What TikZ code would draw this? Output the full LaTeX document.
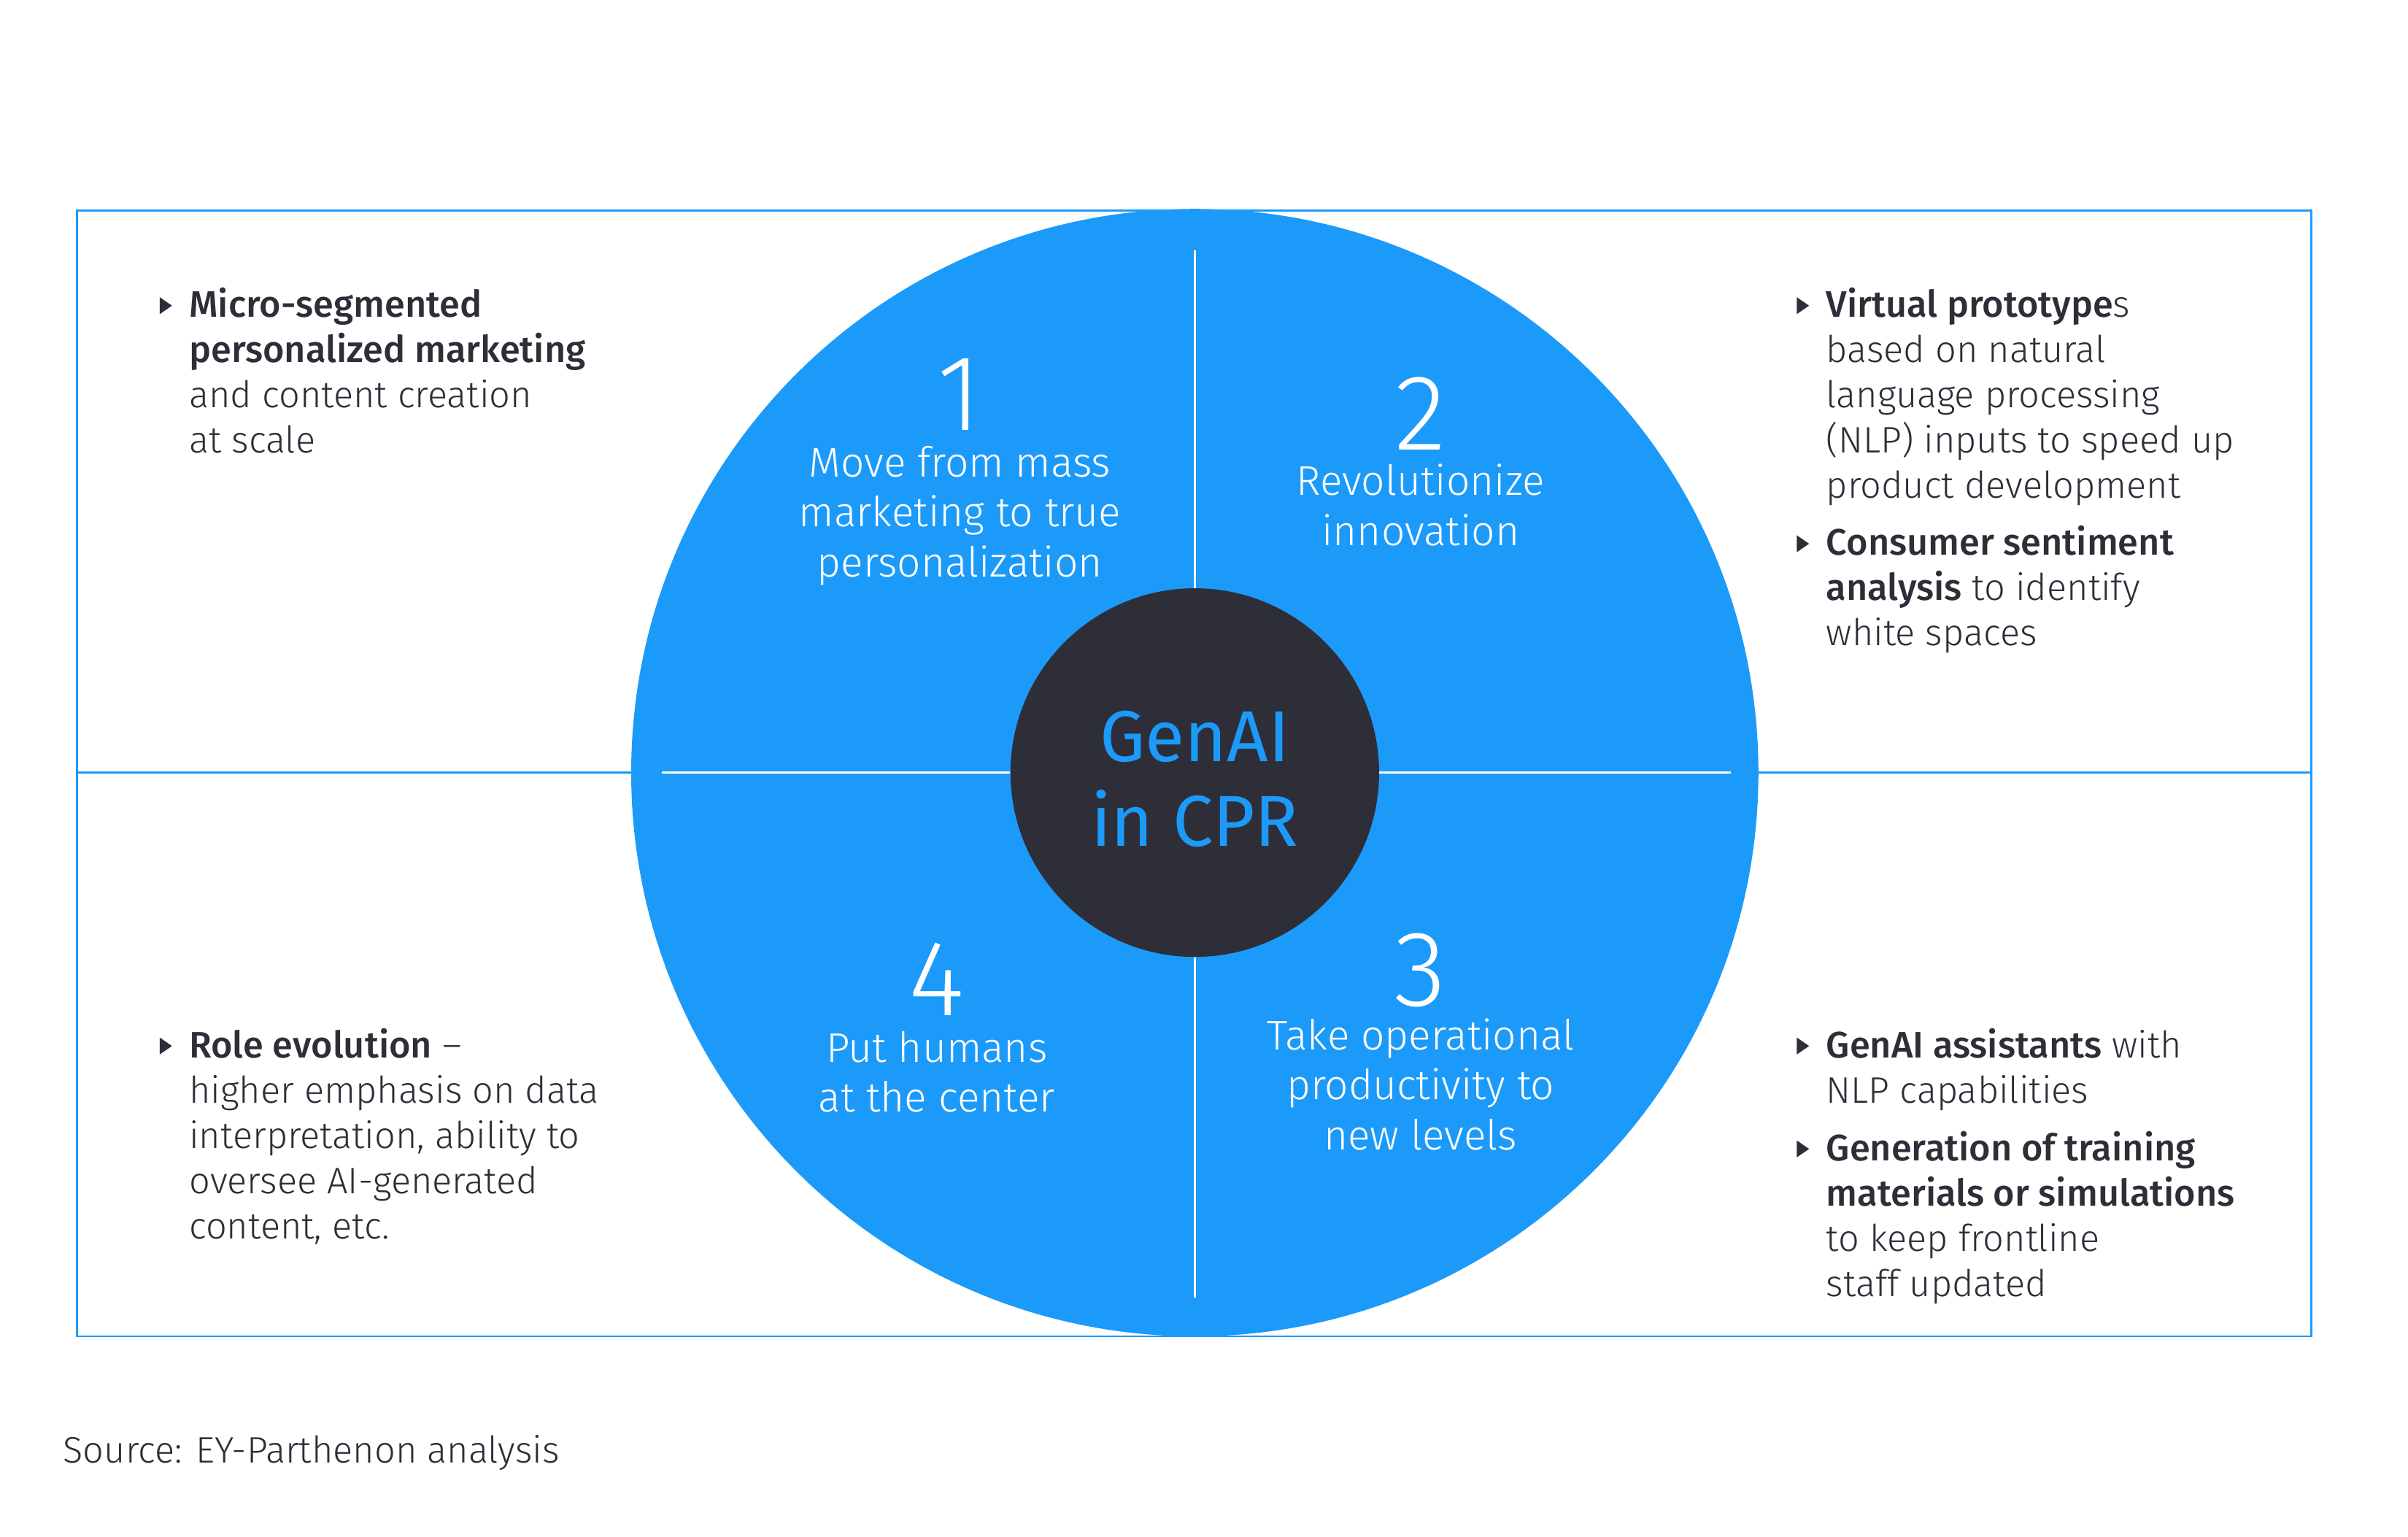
\documentclass[tikz,border=0pt]{standalone}
\usepackage{fontspec}
\setmainfont{Fira Sans Light}[BoldFont={Fira Sans Medium}]
\newfontfamily\regfont{Fira Sans}
\definecolor{eyblue}{HTML}{1C9AFA}
\definecolor{eydark}{HTML}{2E2E38}
\tikzset{
  body/.style={font=\fontsize{24}{29.5}\selectfont, text=eydark, align=left, anchor=base west, inner sep=0pt},
  quad/.style={font=\fontsize{27}{32.5}\selectfont, text=white, align=center, anchor=base, inner sep=0pt},
  num/.style={font=\fontsize{70}{70}\selectfont, text=white, anchor=base, inner sep=0pt},
  hub/.style={font=\regfont\fontsize{47}{55}\selectfont, text=eyblue, align=center, anchor=base, inner sep=0pt},
  frame/.style={draw=eyblue, line width=1.3pt},
  sep/.style={draw=white, line width=1.3pt},
  bullet/.pic={\fill[eydark] (0,-5.5) -- (8,0) -- (0,5.5) -- cycle;}
}
\begin{document}
\begin{tikzpicture}[x=1pt,y=-1pt]
\useasboundingbox (0,0) rectangle (1568,1000.3);
\fill[white] (0,0) rectangle (1568,1000.3);
% frame
\coordinate (bl) at (50,870);
\coordinate (tr) at (1505,137);
\coordinate (ml) at (50,503);
\coordinate (mr) at (1505,503);
\draw[frame] (bl) rectangle (tr);
\draw[frame] (ml) -- (mr);
% circles
\node[circle, fill=eyblue, minimum size=734pt, inner sep=0pt] (big) at (778,503) {};
\node[circle, fill=eydark, minimum size=240pt, inner sep=0pt] (hub) at (778,503) {};
\coordinate (sl) at (431,503);
\coordinate (sr) at (1127,503);
\coordinate (st) at (778,163);
\coordinate (sb) at (778,845);
\draw[sep] (sl) -- (hub.west);
\draw[sep] (hub.east) -- (sr);
\draw[sep] (st) -- (hub.north);
\draw[sep] (hub.south) -- (sb);
% hub text
\node[hub] (hub1) at (778,496) {GenAI};
\node[hub] (hub2) at (778,551) {in CPR};
% numbers
\node[num] (n1) at (625,280) {1};
\node[num] (n2) at (925,293) {2};
\node[num] (n3) at (925,655) {3};
\node[num] (n4) at (610,661) {4};
% quadrant labels (anchored at last baseline)
\node[quad] (q1) at (625,375.5) {Move from mass\\marketing to true\\personalization};
\node[quad] (q2) at (925,355) {Revolutionize\\innovation};
\node[quad] (q3) at (925,748.5) {Take operational\\productivity to\\new levels};
\node[quad] (q4) at (610,724) {Put humans\\at the center};
% side texts (anchored at last baseline)
\pic at (104,199) {bullet};
\node[body] (tl) at (123,295) {\textbf{Micro-segmented}\\\textbf{personalized marketing}\\and content creation\\at scale};
\pic at (1170,199) {bullet};
\node[body] (tr1) at (1189,324.5) {\textbf{Virtual prototype}s\\based on natural\\language processing\\(NLP) inputs to speed up\\product development};
\pic at (1170,354) {bullet};
\node[body] (tr2) at (1189,420.5) {\textbf{Consumer sentiment}\\\textbf{analysis} to identify\\white spaces};
\pic at (104,681) {bullet};
\node[body] (blt) at (123,806.5) {\textbf{Role evolution} –\\higher emphasis on data\\interpretation, ability to\\oversee AI-generated\\content, etc.};
\pic at (1170,681) {bullet};
\node[body] (br1) at (1189,718) {\textbf{GenAI assistants} with\\NLP capabilities};
\pic at (1170,748) {bullet};
\node[body] (br2) at (1189,844) {\textbf{Generation of training}\\\textbf{materials or simulations}\\to keep frontline\\staff updated};
% source
\node[body] (src) at (41,952.5) {Source: EY-Parthenon analysis};
\end{tikzpicture}
\end{document}
